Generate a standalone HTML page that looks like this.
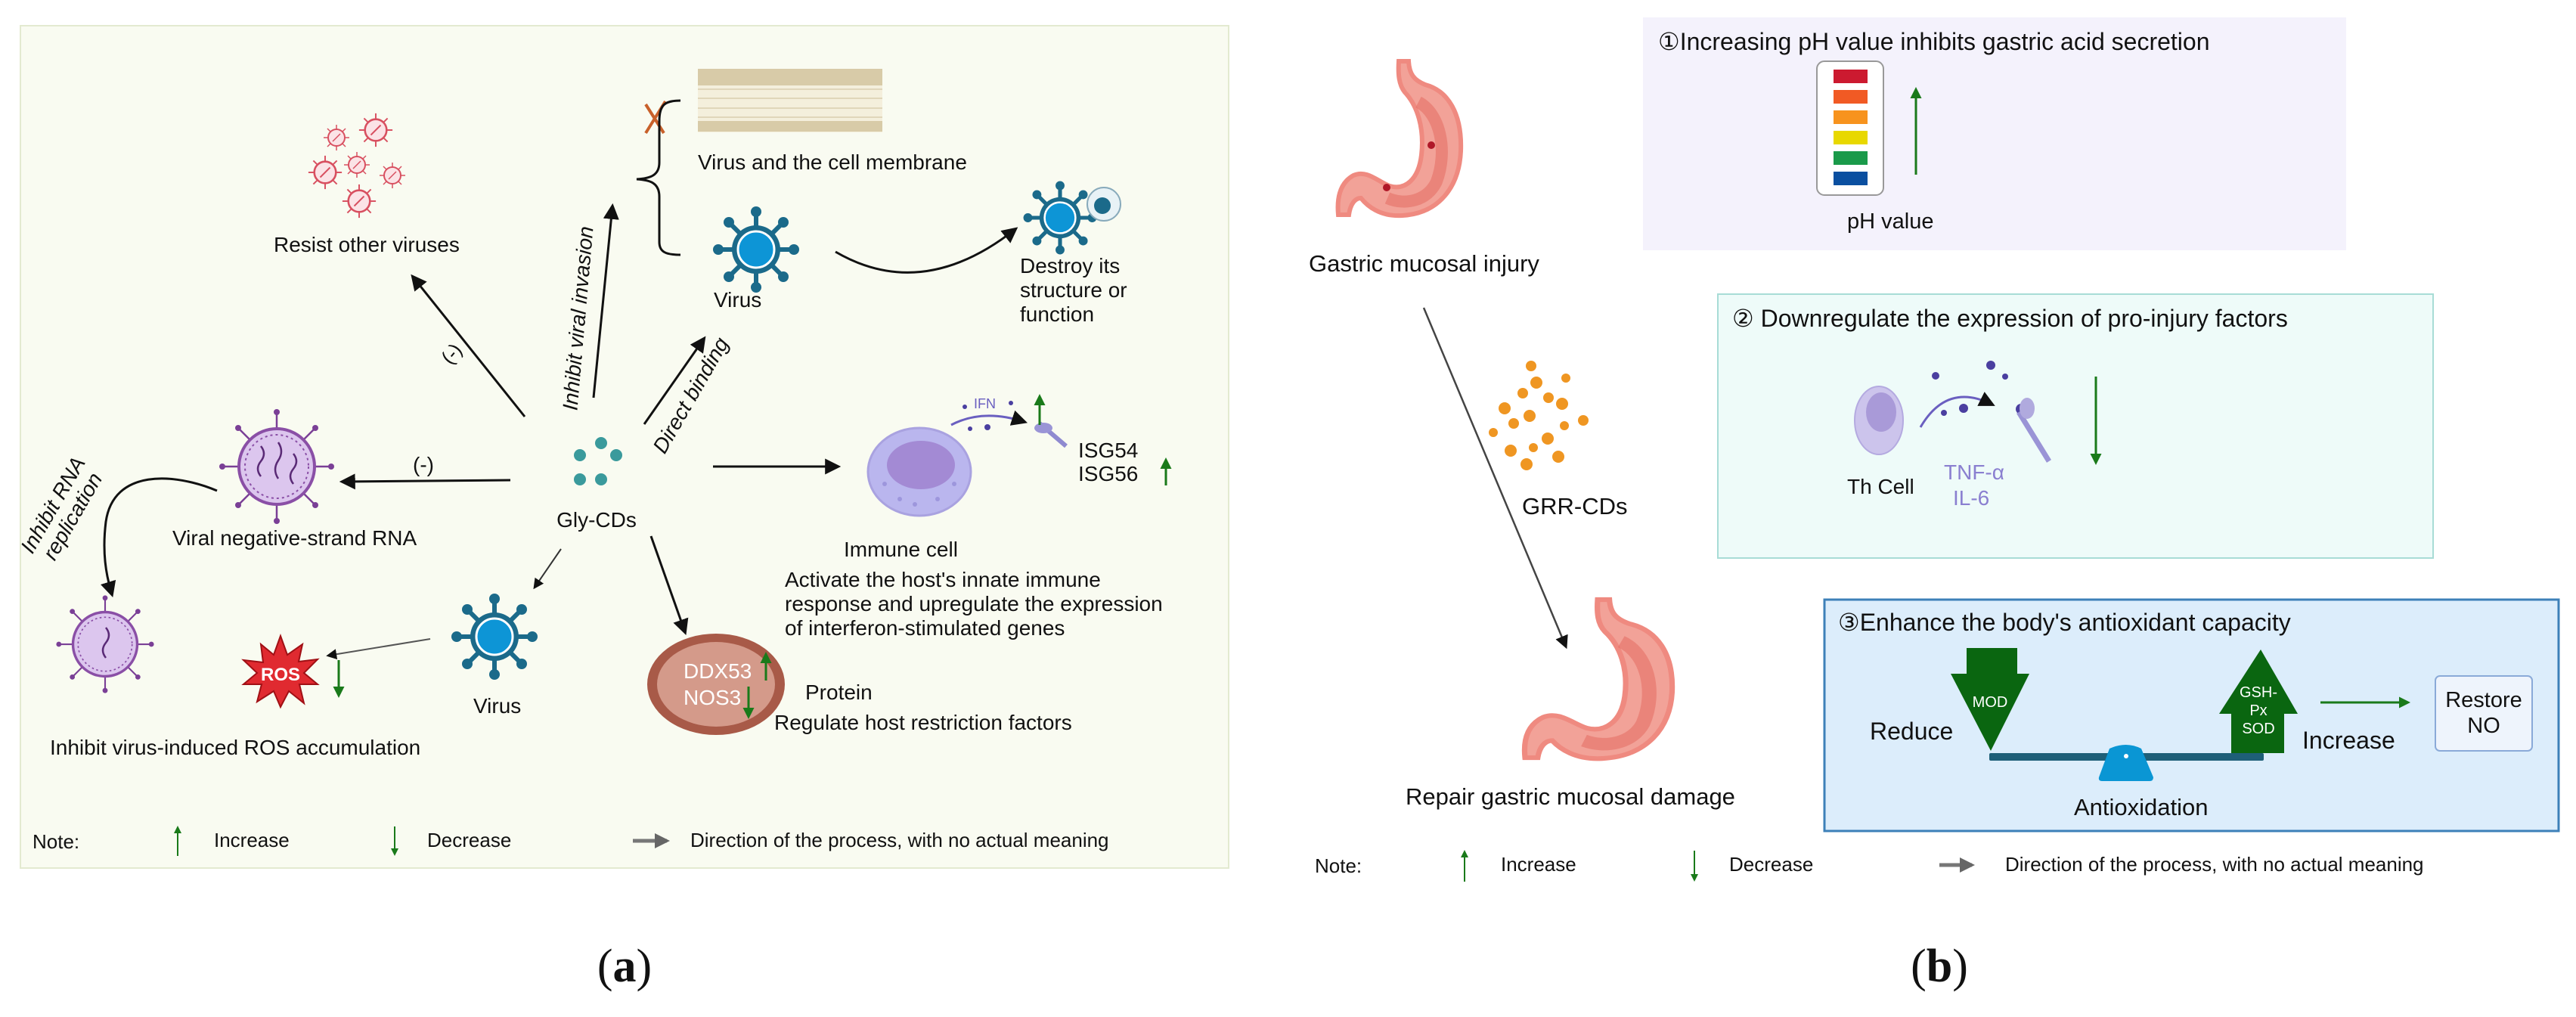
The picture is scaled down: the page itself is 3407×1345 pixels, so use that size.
<!DOCTYPE html>
<html><head><meta charset="utf-8"><style>
html,body{margin:0;padding:0;background:#fff;}
svg{display:block;}
text{font-family:"Liberation Sans",Arial,sans-serif;fill:#111;}
</style></head><body>
<svg width="3407" height="1345" viewBox="0 0 3407 1345" xmlns="http://www.w3.org/2000/svg">
<defs>
<marker id="ah" viewBox="0 0 10 10" refX="8" refY="5" markerWidth="7" markerHeight="7" orient="auto"><path d="M0,0 L10,5 L0,10 z" fill="#111"/></marker>
<marker id="ahg" viewBox="0 0 10 10" refX="8" refY="5" markerWidth="5" markerHeight="6" orient="auto"><path d="M0,0 L10,5 L0,10 z" fill="#1a7a1a"/></marker>
<marker id="ahgr" viewBox="0 0 10 10" refX="8" refY="5" markerWidth="4" markerHeight="4" orient="auto"><path d="M0,0 L10,5 L0,10 z" fill="#666"/></marker>
<g id="bv">
 <g stroke="#1b6a8a" stroke-width="6">
  <line x1="0" y1="0" x2="0" y2="-50"/><line x1="0" y1="0" x2="0" y2="50"/>
  <line x1="0" y1="0" x2="-50" y2="0"/><line x1="0" y1="0" x2="50" y2="0"/>
  <line x1="0" y1="0" x2="36" y2="36"/><line x1="0" y1="0" x2="-36" y2="36"/>
  <line x1="0" y1="0" x2="36" y2="-36"/><line x1="0" y1="0" x2="-36" y2="-36"/>
 </g>
 <g fill="#1b6a8a">
  <circle cx="0" cy="-50" r="7"/><circle cx="0" cy="50" r="7"/><circle cx="-50" cy="0" r="7"/><circle cx="50" cy="0" r="7"/>
  <circle cx="36" cy="36" r="7"/><circle cx="-36" cy="36" r="7"/><circle cx="36" cy="-36" r="7"/><circle cx="-36" cy="-36" r="7"/>
 </g>
 <circle r="32" fill="#1b6a8a"/>
 <circle r="24" fill="#0d95d6" stroke="#fff" stroke-width="3"/>
</g>
<g id="pv">
 <g stroke="#7a3f96" stroke-width="2.5">
  <line x1="0" y1="-50" x2="0" y2="-72"/><line x1="0" y1="50" x2="0" y2="72"/>
  <line x1="-50" y1="0" x2="-72" y2="0"/><line x1="50" y1="0" x2="72" y2="0"/>
  <line x1="35" y1="35" x2="51" y2="51"/><line x1="-35" y1="35" x2="-51" y2="51"/>
  <line x1="35" y1="-35" x2="51" y2="-51"/><line x1="-35" y1="-35" x2="-51" y2="-51"/>
 </g>
 <g fill="#7a3f96">
  <circle cx="0" cy="-72" r="4"/><circle cx="0" cy="72" r="4"/><circle cx="-72" cy="0" r="4"/><circle cx="72" cy="0" r="4"/>
  <circle cx="51" cy="51" r="4"/><circle cx="-51" cy="51" r="4"/><circle cx="51" cy="-51" r="4"/><circle cx="-51" cy="-51" r="4"/>
 </g>
 <circle r="50" fill="#dcc6ee" stroke="#8a4fa6" stroke-width="4"/>
 <circle r="42" fill="none" stroke="#8a4fa6" stroke-width="2" stroke-dasharray="3,4"/>
</g>
<g id="rv">
 <g stroke="#d85060" stroke-width="1.5">
  <line x1="0" y1="-11" x2="0" y2="-17"/><line x1="0" y1="11" x2="0" y2="17"/><line x1="-11" y1="0" x2="-17" y2="0"/><line x1="11" y1="0" x2="17" y2="0"/>
  <line x1="8" y1="8" x2="12" y2="12"/><line x1="-8" y1="8" x2="-12" y2="12"/><line x1="8" y1="-8" x2="12" y2="-12"/><line x1="-8" y1="-8" x2="-12" y2="-12"/>
 </g>
 <circle r="11" fill="#fbe3e6" stroke="#d85060" stroke-width="2"/>
 <line x1="-5" y1="5" x2="5" y2="-5" stroke="#d85060" stroke-width="1.5"/>
</g>
<g id="stom">
 <path d="M1850,81 L1863,81 C1864,98 1870,106 1885,112 C1915,120 1934,150 1932,200 C1930,245 1905,282 1855,285 C1825,287 1808,272 1800,262 C1792,262 1786,270 1784,284 L1770,284 C1768,262 1772,242 1790,232 C1808,224 1822,240 1838,246 C1858,252 1876,238 1880,205 C1884,170 1875,140 1858,122 C1850,112 1849,98 1850,81 Z" fill="#f2a298" stroke="#ef8a80" stroke-width="6"/>
 <path d="M1876,135 C1905,150 1915,200 1900,240 C1888,266 1858,272 1835,262" fill="none" stroke="#e47066" stroke-width="16" opacity="0.6"/>
</g>
</defs>

<!-- Panel a background -->
<rect x="27" y="34" width="1598" height="1114" fill="#f9fbf1" stroke="#e3ead0" stroke-width="2"/>

<!-- membrane -->
<rect x="923" y="93" width="244" height="82" fill="#f4efdc"/>
<rect x="923" y="91" width="244" height="22" fill="#d8cba8"/>
<rect x="923" y="160" width="244" height="14" fill="#d8cba8"/>
<g stroke="#cbbd98" stroke-width="1">
<line x1="923" y1="118" x2="1167" y2="118"/><line x1="923" y1="130" x2="1167" y2="130"/><line x1="923" y1="143" x2="1167" y2="143"/><line x1="923" y1="155" x2="1167" y2="155"/>
</g>
<path d="M854,138 L878,176 M880,134 L854,176" stroke="#c8602a" stroke-width="4" fill="none"/>
<path d="M900,133 C880,133 872,138 872,160 L872,215 C872,232 860,236 842,237 C860,238 872,242 872,260 L872,320 C872,333 880,337 900,337" fill="none" stroke="#111" stroke-width="3"/>
<text x="923" y="224" font-size="28">Virus and the cell membrane</text>

<use href="#bv" x="1000" y="330"/>
<text x="944" y="406" font-size="28">Virus</text>
<path d="M1105,333 Q1220,400 1343,303" fill="none" stroke="#111" stroke-width="3" marker-end="url(#ah)"/>
<use href="#bv" x="1402" y="288" transform="translate(1402,288) scale(0.85) translate(-1402,-288)"/>
<circle cx="1460" cy="270" r="22" fill="#e8f2f6" stroke="#8ab" stroke-width="2"/>
<circle cx="1458" cy="272" r="11" fill="#1b6a8a"/>
<text font-size="28"><tspan x="1349" y="361">Destroy its</tspan><tspan x="1349" y="393">structure or</tspan><tspan x="1349" y="425">function</tspan></text>

<use href="#rv" x="445" y="182"/>
<use href="#rv" x="497" y="172" transform="translate(497,172) scale(1.3) translate(-497,-172)"/>
<use href="#rv" x="430" y="228" transform="translate(430,228) scale(1.3) translate(-430,-228)"/>
<use href="#rv" x="472" y="218"/>
<use href="#rv" x="519" y="232"/>
<use href="#rv" x="475" y="266" transform="translate(475,266) scale(1.3) translate(-475,-266)"/>
<text x="362" y="333" font-size="28">Resist other viruses</text>

<line x1="694" y1="551" x2="546" y2="366" stroke="#111" stroke-width="3" marker-end="url(#ah)"/>
<text x="588" y="487" font-size="26" transform="rotate(-50 588 477)">(-)</text>
<line x1="785" y1="526" x2="810" y2="273" stroke="#111" stroke-width="3" marker-end="url(#ah)"/>
<text x="765" y="430" font-size="28" font-style="italic" text-anchor="middle" transform="rotate(-85 765 421)">Inhibit viral invasion</text>
<line x1="852" y1="561" x2="931" y2="448" stroke="#111" stroke-width="3" marker-end="url(#ah)"/>
<text x="914" y="532" font-size="28" font-style="italic" text-anchor="middle" transform="rotate(-60 914 523)">Direct binding</text>
<line x1="675" y1="635" x2="453" y2="637" stroke="#111" stroke-width="3" marker-end="url(#ah)"/>
<text x="560" y="624" font-size="28" text-anchor="middle">(-)</text>
<line x1="943" y1="617" x2="1108" y2="617" stroke="#111" stroke-width="3" marker-end="url(#ah)"/>
<line x1="742" y1="726" x2="707" y2="777" stroke="#333" stroke-width="2" marker-end="url(#ah)"/>
<line x1="861" y1="709" x2="906" y2="836" stroke="#111" stroke-width="3" marker-end="url(#ah)"/>

<g fill="#3a9a9c"><circle cx="795" cy="586" r="8"/><circle cx="767" cy="602" r="8"/><circle cx="815" cy="602" r="8"/><circle cx="767" cy="634" r="8"/><circle cx="795" cy="634" r="8"/></g>
<text x="789" y="697" font-size="28" text-anchor="middle">Gly-CDs</text>

<use href="#pv" x="366" y="617"/>
<g fill="none" stroke="#5a2a76" stroke-width="2.5">
<path d="M345,590 q8,10 0,20 q-8,10 0,20"/><path d="M368,585 q8,12 0,24 q-8,12 0,24"/><path d="M388,600 q8,10 0,20 q-8,10 0,20"/>
</g>
<text x="228" y="721" font-size="28">Viral negative-strand RNA</text>
<path d="M287,649 C230,625 150,620 140,690 C135,730 140,760 148,786" fill="none" stroke="#111" stroke-width="3" marker-end="url(#ah)"/>
<text font-size="28" font-style="italic" text-anchor="middle" transform="rotate(-60 86 677)"><tspan x="86" y="668">Inhibit RNA</tspan><tspan x="86" y="698">replication</tspan></text>

<use href="#pv" x="139" y="852" transform="translate(139,852) scale(0.85) translate(-139,-852)"/>
<path d="M140,830 q8,10 0,20 q-8,10 0,20" fill="none" stroke="#5a2a76" stroke-width="2.5"/>

<polygon points="371,841 380,866 400,852 395,875 420,872 402,890 420,905 396,905 402,930 382,914 371,935 362,914 340,928 346,905 322,905 340,890 322,873 348,876 345,852 362,866" fill="#e02a30" stroke="#a01015" stroke-width="2"/>
<text x="371" y="900" font-size="24" font-weight="bold" text-anchor="middle" style="fill:#fff">ROS</text>
<line x1="448" y1="873" x2="448" y2="920" stroke="#1a7a1a" stroke-width="3" marker-end="url(#ahg)"/>
<line x1="569" y1="845" x2="434" y2="867" stroke="#555" stroke-width="2" marker-end="url(#ah)"/>
<use href="#bv" x="654" y="842"/>
<text x="626" y="943" font-size="28">Virus</text>
<text x="66" y="998" font-size="28">Inhibit virus-induced ROS accumulation</text>

<ellipse cx="947" cy="905" rx="91" ry="67" fill="#a85a48"/>
<ellipse cx="947" cy="905" rx="78" ry="56" fill="#d49a8a"/>
<text x="904" y="897" font-size="28" style="fill:#fff">DDX53</text>
<text x="904" y="932" font-size="28" style="fill:#fff">NOS3</text>
<line x1="1013" y1="900" x2="1013" y2="865" stroke="#1a7a1a" stroke-width="3" marker-end="url(#ahg)"/>
<line x1="990" y1="908" x2="990" y2="948" stroke="#1a7a1a" stroke-width="3" marker-end="url(#ahg)"/>
<text x="1065" y="925" font-size="28">Protein</text>
<text x="1024" y="965" font-size="28">Regulate host restriction factors</text>

<ellipse cx="1216" cy="624" rx="68" ry="58" fill="#bab6ee" stroke="#a9a2e0" stroke-width="3"/>
<ellipse cx="1218" cy="615" rx="45" ry="32" fill="#a38ad4"/>
<g fill="#9d96dc"><circle cx="1170" cy="640" r="3"/><circle cx="1190" cy="660" r="3"/><circle cx="1240" cy="660" r="3"/><circle cx="1262" cy="640" r="3"/><circle cx="1210" cy="667" r="3"/></g>
<path d="M1258,562 Q1300,540 1355,558" fill="none" stroke="#6a5fc0" stroke-width="3" marker-end="url(#ah)"/>
<text x="1288" y="540" font-size="18" style="fill:#6a5fc0">IFN</text>
<g fill="#4a3fa0"><circle cx="1276" cy="538" r="3"/><circle cx="1337" cy="533" r="3"/><circle cx="1306" cy="565" r="4"/><circle cx="1283" cy="567" r="3"/></g>
<path d="M1375,560 L1410,590" stroke="#8f8ad0" stroke-width="6"/>
<ellipse cx="1380" cy="566" rx="12" ry="7" fill="#9a94d6"/>
<line x1="1375" y1="562" x2="1375" y2="524" stroke="#1a7a1a" stroke-width="3" marker-end="url(#ahg)"/>
<text x="1426" y="605" font-size="28">ISG54</text>
<text x="1426" y="636" font-size="28">ISG56</text>
<line x1="1542" y1="642" x2="1542" y2="608" stroke="#1a7a1a" stroke-width="3" marker-end="url(#ahg)"/>
<text x="1116" y="736" font-size="28">Immune cell</text>
<text font-size="28"><tspan x="1038" y="776">Activate the host's innate immune</tspan><tspan x="1038" y="808">response and upregulate the expression</tspan><tspan x="1038" y="840">of interferon-stimulated genes</tspan></text>

<text x="43" y="1122" font-size="26">Note:</text>
<line x1="235" y1="1132" x2="235" y2="1094" stroke="#1a7a1a" stroke-width="2" marker-end="url(#ahg)"/>
<text x="283" y="1120" font-size="26">Increase</text>
<line x1="522" y1="1093" x2="522" y2="1130" stroke="#1a7a1a" stroke-width="2" marker-end="url(#ahg)"/>
<text x="565" y="1120" font-size="26">Decrease</text>
<line x1="837" y1="1112" x2="882" y2="1112" stroke="#777" stroke-width="5" marker-end="url(#ahgr)"/>
<text x="913" y="1120" font-size="26">Direction of the process, with no actual meaning</text>

<!-- Panel b -->
<use href="#stom"/>
<circle cx="1893" cy="192" r="5" fill="#b01828"/><circle cx="1834" cy="248" r="5" fill="#b01828"/>
<text x="1731" y="359" font-size="31">Gastric mucosal injury</text>

<g fill="#ef9622">
<circle cx="2025" cy="484" r="7"/><circle cx="2032" cy="506" r="8"/><circle cx="2071" cy="500" r="6"/><circle cx="2014" cy="520" r="7"/><circle cx="2048" cy="526" r="7"/>
<circle cx="2066" cy="534" r="8"/><circle cx="1990" cy="540" r="8"/><circle cx="2023" cy="550" r="8"/><circle cx="2002" cy="560" r="7"/><circle cx="2069" cy="563" r="6"/>
<circle cx="2094" cy="556" r="7"/><circle cx="1975" cy="572" r="6"/><circle cx="2047" cy="580" r="8"/><circle cx="1998" cy="596" r="8"/><circle cx="2028" cy="592" r="6"/>
<circle cx="2019" cy="614" r="8"/><circle cx="2061" cy="604" r="8"/>
</g>
<text x="2013" y="680" font-size="31">GRR-CDs</text>
<line x1="1883" y1="407" x2="2071" y2="855" stroke="#444" stroke-width="2.5" marker-end="url(#ah)"/>

<use href="#stom" transform="translate(2017,793) scale(1.2,1.03) translate(-1770,-81)"/>
<text x="1859" y="1064" font-size="31">Repair gastric mucosal damage</text>

<rect x="2173" y="23" width="930" height="308" fill="#f4f2fc"/>
<text x="2193" y="66" font-size="32">①Increasing pH value inhibits gastric acid secretion</text>
<rect x="2403" y="81" width="88" height="177" rx="10" fill="#fff" stroke="#999" stroke-width="2"/>
<rect x="2425" y="92" width="45" height="18" fill="#cc1a30"/>
<rect x="2425" y="119" width="45" height="18" fill="#f15a24"/>
<rect x="2425" y="146" width="45" height="18" fill="#f7931e"/>
<rect x="2425" y="173" width="45" height="18" fill="#e8d800"/>
<rect x="2425" y="200" width="45" height="18" fill="#1a9a4a"/>
<rect x="2425" y="227" width="45" height="18" fill="#0a4fa0"/>
<line x1="2534" y1="231" x2="2534" y2="118" stroke="#1a7a1a" stroke-width="3" marker-end="url(#ahg)"/>
<text x="2443" y="302" font-size="29">pH value</text>

<rect x="2272" y="389" width="946" height="349" fill="#eefbf9" stroke="#a8dcd6" stroke-width="2"/>
<text x="2291" y="432" font-size="32">② Downregulate the expression of pro-injury factors</text>
<ellipse cx="2485" cy="556" rx="32" ry="45" fill="#ccc4ec" stroke="#b4aae0" stroke-width="2"/>
<ellipse cx="2488" cy="545" rx="20" ry="26" fill="#a99ad8"/>
<path d="M2540,565 Q2575,505 2635,535" fill="none" stroke="#6a5fc0" stroke-width="3" marker-end="url(#ah)"/>
<g fill="#4a3fa0"><circle cx="2560" cy="497" r="5"/><circle cx="2633" cy="483" r="6"/><circle cx="2652" cy="498" r="4"/><circle cx="2571" cy="546" r="4"/><circle cx="2597" cy="540" r="6"/><circle cx="2673" cy="541" r="7"/></g>
<path d="M2670,545 L2710,610" stroke="#9a94d6" stroke-width="7"/>
<ellipse cx="2681" cy="540" rx="10" ry="14" fill="#b0aade"/>
<text x="2443" y="653" font-size="28">Th Cell</text>
<text x="2571" y="634" font-size="28" style="fill:#8a7fd0">TNF-α</text>
<text x="2583" y="668" font-size="28" style="fill:#8a7fd0">IL-6</text>
<line x1="2772" y1="498" x2="2772" y2="612" stroke="#1a7a1a" stroke-width="3" marker-end="url(#ahg)"/>

<rect x="2413" y="793" width="971" height="306" fill="#dcedfb" stroke="#3d80b8" stroke-width="3"/>
<text x="2431" y="834" font-size="32">③Enhance the body's antioxidant capacity</text>
<polygon points="2601,857 2668,857 2668,891 2684,891 2633,993 2580,891 2601,891" fill="#0a6610"/>
<text x="2632" y="935" font-size="20" text-anchor="middle" style="fill:#fff">MOD</text>
<text x="2473" y="978" font-size="32">Reduce</text>
<rect x="2631" y="996" width="363" height="10" rx="2" fill="#1e5f78"/>
<path d="M2790,990 Q2812,980 2832,990 L2848,1028 Q2848,1033 2843,1033 L2780,1033 Q2775,1033 2776,1028 Z" fill="#0a96d4"/>
<circle cx="2812" cy="1000" r="3" fill="#fff"/>
<polygon points="2990,859 3039,944 3021,944 3021,996 2951,996 2951,944 2935,944" fill="#0a6610"/>
<text x="2987" y="922" font-size="20" text-anchor="middle" style="fill:#fff">GSH-</text>
<text x="2987" y="946" font-size="20" text-anchor="middle" style="fill:#fff">Px</text>
<text x="2987" y="970" font-size="20" text-anchor="middle" style="fill:#fff">SOD</text>
<text x="3045" y="990" font-size="32">Increase</text>
<line x1="3069" y1="929" x2="3185" y2="929" stroke="#1a7a1a" stroke-width="3" marker-end="url(#ahg)"/>
<rect x="3221" y="894" width="128" height="99" rx="6" fill="#eef4fc" stroke="#8aaad8" stroke-width="2"/>
<text x="3285" y="935" font-size="29" text-anchor="middle">Restore</text>
<text x="3285" y="969" font-size="29" text-anchor="middle">NO</text>
<text x="2743" y="1078" font-size="31">Antioxidation</text>

<text x="1739" y="1154" font-size="26">Note:</text>
<line x1="1937" y1="1166" x2="1937" y2="1126" stroke="#1a7a1a" stroke-width="2" marker-end="url(#ahg)"/>
<text x="1985" y="1152" font-size="26">Increase</text>
<line x1="2241" y1="1125" x2="2241" y2="1164" stroke="#1a7a1a" stroke-width="2" marker-end="url(#ahg)"/>
<text x="2287" y="1152" font-size="26">Decrease</text>
<line x1="2565" y1="1144" x2="2608" y2="1144" stroke="#777" stroke-width="5" marker-end="url(#ahgr)"/>
<text x="2652" y="1152" font-size="26">Direction of the process, with no actual meaning</text>

<text x="826" y="1298" font-size="62" text-anchor="middle" style="font-family:'Liberation Serif',serif">(<tspan font-weight="bold">a</tspan>)</text>
<text x="2565" y="1298" font-size="62" text-anchor="middle" style="font-family:'Liberation Serif',serif">(<tspan font-weight="bold">b</tspan>)</text>
</svg>
</body></html>
